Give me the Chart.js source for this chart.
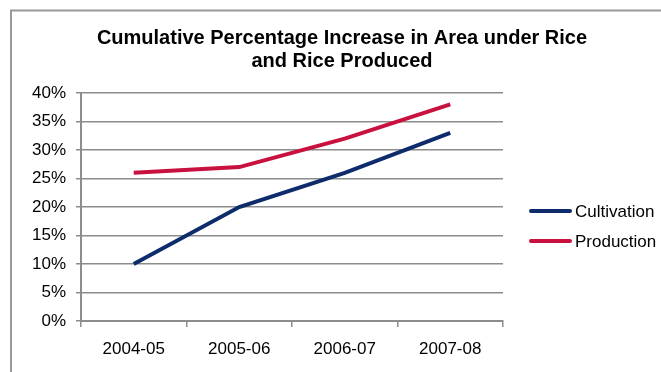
<!DOCTYPE html>
<html>
<head>
<meta charset="utf-8">
<script src="https://cdn.jsdelivr.net/npm/chart.js@4/dist/chart.umd.min.js"></script>
<style>
html,body{margin:0;padding:0;background:#fff;}
#wrap{position:relative;width:661px;height:372px;}
</style>
</head>
<body>
<div id="wrap"><canvas id="c" width="661" height="372"></canvas></div>
<script>
const titleLines = ['Cumulative Percentage Increase in Area under Rice', 'and Rice Produced'];
const categories = ['2004-05', '2005-06', '2006-07', '2007-08'];
const cultivation = [10, 20, 26, 33];
const production = [26, 27, 32, 38];
const yTickLabels = ['0%', '5%', '10%', '15%', '20%', '25%', '30%', '35%', '40%'];
const seriesNames = ['Cultivation', 'Production'];
const seriesColors = ['#0E2C6C', '#C8113F'];

const FONT = '"Liberation Sans", Arial, Helvetica, sans-serif';

const frameAndLegend = {
  id: 'frameAndLegend',
  afterDraw(chart) {
    const ctx = chart.ctx;
    ctx.save();
    // outer frame (top + left visible)
    ctx.strokeStyle = '#9a9a9a';
    ctx.lineWidth = 2;
    ctx.beginPath();
    ctx.moveTo(661, 10.5);
    ctx.lineTo(11, 10.5);
    ctx.lineTo(11, 372);
    ctx.stroke();
    // legend
    const ys = [211, 241];
    ctx.font = '17px ' + FONT;
    ctx.textBaseline = 'middle';
    ctx.textAlign = 'left';
    chart.data.datasets.forEach((ds, i) => {
      ctx.strokeStyle = ds.borderColor;
      ctx.lineWidth = 4;
      ctx.lineCap = 'round';
      ctx.beginPath();
      ctx.moveTo(531, ys[i]);
      ctx.lineTo(570, ys[i]);
      ctx.stroke();
      ctx.fillStyle = '#000';
      ctx.fillText(ds.label, 575, ys[i] + 1);
    });
    ctx.restore();
  }
};

new Chart(document.getElementById('c'), {
  type: 'line',
  data: {
    labels: categories,
    datasets: [
      { label: seriesNames[0], data: cultivation, borderColor: seriesColors[0], backgroundColor: seriesColors[0], borderWidth: 4, pointRadius: 0, tension: 0, yAxisID: 'y' },
      { label: seriesNames[1], data: production, borderColor: seriesColors[1], backgroundColor: seriesColors[1], borderWidth: 4, pointRadius: 0, tension: 0, yAxisID: 'y' }
    ]
  },
  options: {
    responsive: false,
    animation: false,
    devicePixelRatio: 1,
    layout: { padding: { left: 23, right: 0, top: 0, bottom: 0 } },
    plugins: {
      legend: { display: false },
      tooltip: { enabled: false },
      title: {
        display: true,
        text: titleLines,
        color: '#000',
        font: { family: FONT, size: 20, weight: 'bold', lineHeight: 1.15 },
        padding: { top: 27, bottom: 20 }
      }
    },
    scales: {
      x: {
        offset: true,
        grid: { drawOnChartArea: false, drawTicks: true, tickLength: 6, color: '#8c8c8c', lineWidth: 1.5, offset: true },
        border: { display: true, color: '#8c8c8c', width: 2 },
        ticks: { color: '#000', font: { family: FONT, size: 17 }, padding: 12, maxRotation: 0 },
        afterFit(s) { s.height = 51; }
      },
      y: {
        min: 0, max: 40,
        ticks: {
          stepSize: 5,
          color: '#000',
          font: { family: FONT, size: 17 },
          padding: 10,
          callback: (v, i) => yTickLabels[i]
        },
        grid: { color: '#8c8c8c', lineWidth: 1.5, tickLength: 5, drawTicks: true },
        border: { display: true, color: '#8c8c8c', width: 2 },
        afterFit(s) { s.width = 58; }
      },
      spacer: {
        type: 'linear',
        position: 'right',
        display: true,
        grid: { display: false, drawTicks: false },
        border: { display: false },
        ticks: { display: false },
        afterFit(s) { s.width = 158; }
      }
    }
  },
  plugins: [frameAndLegend]
});
</script>
</body>
</html>
